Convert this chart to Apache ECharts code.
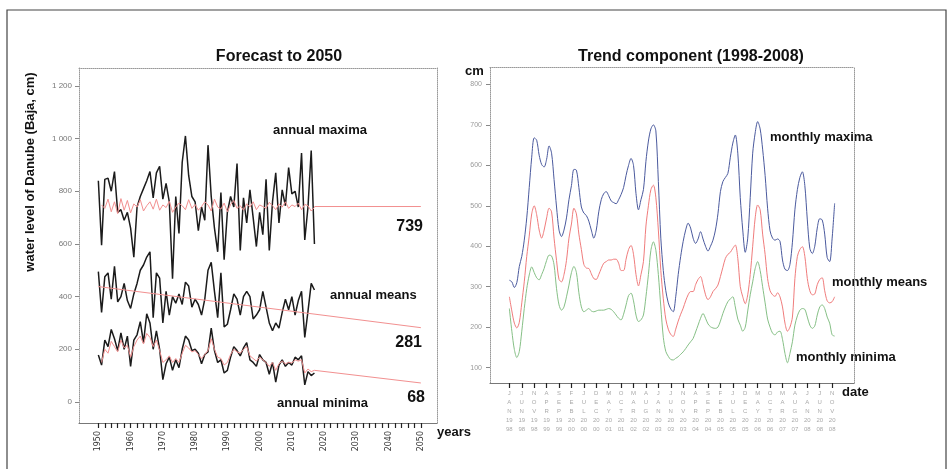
<!DOCTYPE html>
<html><head><meta charset="utf-8">
<script src="https://cdn.jsdelivr.net/npm/echarts@6/dist/echarts.min.js"></script>
<style>html,body{margin:0;padding:0;background:#fff}#c{width:949px;height:469px}</style>
</head><body><div id="c"></div>
<script>
// ---------- Left chart: Forecast to 2050 ----------
const firstYear = 1950;
const annualMaxima = [840,595,845,850,800,875,720,730,690,720,
  660,550,740,780,810,840,875,775,870,895,
  770,830,760,468,780,640,910,1010,860,780,
  760,650,740,690,975,780,660,570,795,540,
  720,780,740,905,575,775,680,805,700,590,
  720,635,845,575,760,870,680,805,745,890,
  790,800,740,945,615,740,955,600];
const annualMeans = [495,340,475,490,390,515,380,400,450,385,
  355,410,450,500,520,550,570,320,490,470,
  300,420,330,400,375,410,370,455,440,360,
  390,370,330,390,500,530,420,320,490,285,
  295,350,410,390,330,400,420,400,315,330,
  350,420,360,300,270,300,280,340,390,350,
  400,330,385,420,245,345,450,425];
const annualMinima = [178,140,235,210,275,240,195,262,200,250,
  135,235,255,305,225,335,300,200,270,200,
  85,145,170,120,160,130,200,250,235,195,
  200,185,145,180,190,280,195,150,160,110,
  120,170,210,195,175,205,225,160,150,135,
  180,160,150,105,150,75,140,160,135,150,
  140,170,160,175,65,115,100,110];
const fitFirstYear = 1951;
const maximaFit = [748,735,770,722,760,715,772,728,765,718,
  752,740,768,725,745,760,732,770,728,748,
  738,762,720,740,755,745,730,768,735,750,
  728,742,760,748,725,770,740,732,755,722,
  750,765,735,745,728,752,740,760,730,748,
  742,735,758,745,730,752,740,760,735,748,
  742,755,730,750,745,725,739];
const minimaFit = [150,200,185,230,210,190,235,205,215,170,
  210,235,250,220,260,245,210,235,195,150,
  160,175,150,165,150,185,215,205,190,195,
  180,165,180,195,240,200,170,165,140,150,
  180,200,190,185,200,210,175,165,155,170,
  160,150,135,150,120,145,155,145,150,148,
  160,155,160,110,125,115,120];
const forecastYears = [2017, 2050];
const maximaForecast = [742, 742];
const minimaForecast = [120, 72];
const meansTrendYears = [1950, 2050];
const meansTrend = [438, 282];
const leftYTicks = [0, 200, 400, 600, 800, 1000, 1200];
const leftXLabels = [1950,1960,1970,1980,1990,2000,2010,2020,2030,2040,2050];

// ---------- Right chart: Trend component (1998-2008), monthly from JAN 1998 ----------
const monthlyMaxima = [316,312,298,310,350,375,415,470,545,620,
  668,662,625,602,596,615,648,630,565,497,
  440,424,440,470,515,550,590,588,545,497,
  482,476,462,440,420,440,485,515,530,535,
  525,512,508,505,515,528,545,575,600,617,
  600,530,490,515,540,610,660,690,700,685,
  560,420,340,290,260,245,238,275,330,375,
  412,440,457,445,420,407,418,436,418,400,
  388,400,415,440,480,535,560,570,580,620,
  655,675,630,520,440,385,420,520,630,680,
  708,690,640,575,494,438,420,415,418,412,
  366,343,340,355,410,490,540,570,584,550,
  465,395,382,400,445,468,465,430,372,362,
  420,506];
const monthlyMeans = [275,240,210,198,212,260,312,375,425,480,
  500,478,440,420,440,470,494,485,420,365,
  318,312,330,365,420,455,494,480,430,392,
  355,346,345,332,320,318,330,345,358,362,
  366,366,368,368,358,340,340,368,392,402,
  380,330,302,330,362,450,500,540,551,520,
  440,340,270,220,195,182,177,195,215,232,
  247,265,280,288,288,305,318,325,305,280,
  268,275,288,295,304,325,348,370,380,385,
  395,403,370,300,275,258,280,330,400,470,
  502,490,430,380,320,290,280,276,285,275,
  250,210,190,200,225,320,375,392,399,375,
  320,290,280,282,305,318,322,290,265,260,
  263,275];
const monthlyMinima = [246,190,145,125,140,190,246,295,329,349,
  335,322,317,330,345,365,378,376,354,295,
  255,242,250,275,304,335,350,335,285,250,
  238,242,246,240,238,240,242,242,242,244,
  246,244,238,230,222,218,232,255,278,284,
  265,230,214,218,230,275,330,390,411,390,
  330,250,175,140,128,120,119,123,127,133,
  139,147,156,164,172,188,205,222,234,222,
  208,201,198,197,200,215,234,250,263,270,
  275,250,220,205,190,200,240,280,312,345,
  362,340,300,260,220,200,185,181,188,190,
  170,135,112,135,164,205,228,242,246,244,
  225,205,197,203,230,250,255,246,225,210,
  181,178];
const dateTickLabels = ['JAN 1998','JUN 1998','NOV 1998','APR 1999','SEP 1999','FEB 2000','JUL 2000','DEC 2000',
  'MAY 2001','OCT 2001','MAR 2002','AUG 2002','JAN 2003','JUN 2003','NOV 2003','APR 2004','SEP 2004',
  'FEB 2005','JUL 2005','DEC 2005','MAY 2006','OCT 2006','MAR 2007','AUG 2007','JAN 2008','JUN 2008','NOV 2008'];
const rightYTicks = [100,200,300,400,500,600,700,800];

// ---------- build ----------
const pairs = (start, vals) => vals.map((v, i) => [start + i, v]);
const zip = (xs, ys) => xs.map((x, i) => [x, ys[i]]);
const tickStep5 = dateTickLabels.map((_, i) => i * 5);
const leftMinorTicks = [];
for (let y = 1950; y <= 2050; y += 2) leftMinorTicks.push(y);

const FONT = '"Liberation Sans", Arial, sans-serif';
const black = '#1b1b1b', pink = '#f29090';
const dotted = {show: true, onZero: false, lineStyle: {color: '#999', type: 'dotted', width: 1}};
const solidAxis = {show: true, onZero: false, lineStyle: {color: '#777', width: 1.2}};
const boxAxis = (extra) => Object.assign({type: 'value', axisLine: dotted, axisTick: {show: false},
  axisLabel: {show: false}, splitLine: {show: false}}, extra);

const chart = echarts.init(document.getElementById('c'), null, {renderer: 'canvas'});
const lineS = (name, data, color, width, xi, yi, extra) => Object.assign({
  name, type: 'line', data, xAxisIndex: xi, yAxisIndex: yi, showSymbol: false, symbol: 'none',
  lineStyle: {color, width}, silent: true, animation: false
}, extra || {});

const txt = (text, x, y, size, align) => ({type: 'text', x, y, style: {text, fill: '#111',
  font: 'bold ' + size + 'px ' + FONT, textAlign: align || 'left', textVerticalAlign: 'middle'}});

chart.setOption({
  animation: false,
  backgroundColor: '#fff',
  title: [
    {text: 'Forecast to 2050', left: 274, top: 44, textAlign: 'center',
      textStyle: {fontFamily: FONT, fontSize: 16, fontWeight: 'bold', color: '#111'}},
    {text: 'Trend component (1998-2008)', left: 686, top: 44, textAlign: 'center',
      textStyle: {fontFamily: FONT, fontSize: 16, fontWeight: 'bold', color: '#111'}}
  ],
  grid: [
    {left: 79, top: 68, width: 358, height: 355},
    {left: 490, top: 67, width: 364, height: 316}
  ],
  xAxis: [
    {type: 'value', gridIndex: 0, min: 1944, max: 2055, axisLine: solidAxis,
      axisTick: {show: true, customValues: leftMinorTicks, length: 5, lineStyle: {color: '#222', width: 1.2}},
      axisLabel: {customValues: leftXLabels, rotate: 90, fontSize: 8, color: '#333', fontFamily: 'DejaVu Sans', margin: 8,
        formatter: v => String(v)},
      splitLine: {show: false}},
    boxAxis({gridIndex: 0, position: 'top', min: 1944, max: 2055}),
    {type: 'value', gridIndex: 1, min: -7.8, max: 138.8, axisLine: solidAxis,
      axisTick: {show: true, customValues: tickStep5, length: 5, lineStyle: {color: '#222', width: 1.2}},
      axisLabel: {customValues: tickStep5, fontSize: 6, color: '#aaa', lineHeight: 9, margin: 6, fontFamily: FONT,
        formatter: v => {
          const s = dateTickLabels[Math.round(v / 5)];
          if (!s) return '';
          const [mon, yr] = s.split(' ');
          return mon.split('').join('\n') + '\n' + yr.slice(0, 2) + '\n' + yr.slice(2);
        }},
      splitLine: {show: false}},
    boxAxis({gridIndex: 1, position: 'top', min: -7.8, max: 138.8})
  ],
  yAxis: [
    {type: 'value', gridIndex: 0, min: -80, max: 1268, axisLine: dotted,
      axisTick: {show: true, customValues: leftYTicks, length: 4, lineStyle: {color: '#888'}},
      axisLabel: {customValues: leftYTicks, fontSize: 8, color: '#777', margin: 7, fontFamily: FONT,
        formatter: v => v >= 1000 ? Math.floor(v / 1000) + ' ' + String(v % 1000).padStart(3, '0') : String(v)},
      splitLine: {show: false}},
    boxAxis({gridIndex: 0, position: 'right', min: -80, max: 1268}),
    {type: 'value', gridIndex: 1, min: 62, max: 843, axisLine: dotted,
      axisTick: {show: true, customValues: rightYTicks, length: 4, lineStyle: {color: '#888'}},
      axisLabel: {customValues: rightYTicks, fontSize: 7, color: '#999', margin: 8, fontFamily: FONT},
      splitLine: {show: false}},
    boxAxis({gridIndex: 1, position: 'right', min: 62, max: 843})
  ],
  series: [
    lineS('annual maxima', pairs(firstYear, annualMaxima), black, 1.5, 0, 0),
    lineS('annual means', pairs(firstYear, annualMeans), black, 1.5, 0, 0),
    lineS('annual minima', pairs(firstYear, annualMinima), black, 1.5, 0, 0),
    lineS('maxima model', pairs(fitFirstYear, maximaFit), pink, 1, 0, 0, {z: 3}),
    lineS('minima model', pairs(fitFirstYear, minimaFit), pink, 1, 0, 0, {z: 3}),
    lineS('maxima forecast', zip(forecastYears, maximaForecast), pink, 1, 0, 0),
    lineS('minima forecast', zip(forecastYears, minimaForecast), pink, 1, 0, 0),
    lineS('means trend', zip(meansTrendYears, meansTrend), pink, 1, 0, 0),
    lineS('monthly maxima', pairs(0, monthlyMaxima), '#4b5a9e', 1, 2, 2, {smooth: 0.3}),
    lineS('monthly means', pairs(0, monthlyMeans), '#f07c7c', 1, 2, 2, {smooth: 0.3}),
    lineS('monthly minima', pairs(0, monthlyMinima), '#86c086', 1, 2, 2, {smooth: 0.3})
  ],
  graphic: [
    {type: 'rect', shape: {x: 7, y: 10, width: 939, height: 470}, style: {fill: 'none', stroke: '#444', lineWidth: 1.2}, silent: true},
    {type: 'text', x: 30, y: 172, rotation: Math.PI / 2, style: {text: 'water level of Danube (Baja, cm)', fill: '#111',
      font: 'bold 13px ' + FONT, textAlign: 'center', textVerticalAlign: 'middle'}},
    txt('annual maxima', 273, 130, 13),
    txt('739', 423, 227, 16, 'right'),
    txt('annual means', 330, 295, 13),
    txt('281', 422, 343, 16, 'right'),
    txt('annual minima', 277, 403, 13),
    txt('68', 425, 398, 16, 'right'),
    txt('years', 437, 432, 13),
    txt('cm', 465, 71, 13),
    txt('monthly maxima', 770, 137, 13),
    txt('monthly means', 832, 282, 13),
    txt('monthly minima', 796, 357, 13),
    txt('date', 842, 392, 13)
  ]
});
</script></body></html>
